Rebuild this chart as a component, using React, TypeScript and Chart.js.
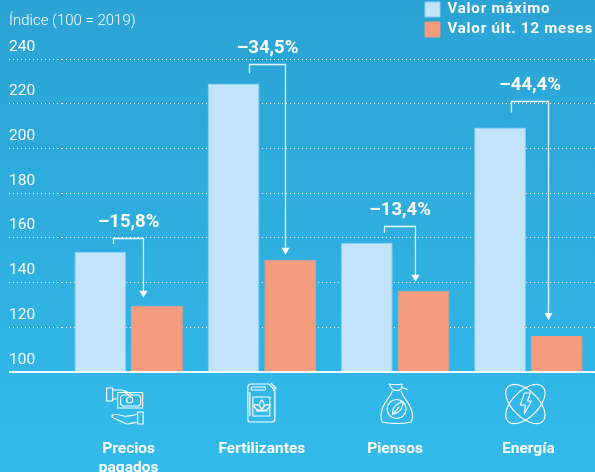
import React, { useEffect, useRef } from "react";
import { Chart, registerables } from "chart.js";

Chart.register(...registerables);

const categories = [["Precios", "pagados"], "Fertilizantes", "Piensos", "Energía"];
const seriesMaxLabel = "Valor máximo";
const seriesLastLabel = "Valor últ. 12 meses";
const valorMaximo = [153.8, 229, 157.8, 209.4];
const valorUltimo = [129.6, 150.2, 136.3, 116.1];
const changeLabels = ["–15,8%", "–34,5%", "–13,4%", "–44,4%"];
const bracketTop = [160.1, 237.9, 165.2, 221.3];
const bracketTickEnd = [157.2, 233.6, 162.3, 216.1];
const arrowTip = [133.2, 152.5, 140.4, 123.3];
const yTicks = [100, 120, 140, 160, 180, 200, 220, 240];

const FONT = "Roboto, 'Liberation Sans', sans-serif";
const WHITE = "#ffffff";

type Ctx = CanvasRenderingContext2D;

function stroke(ctx: Ctx, d: string) {
  ctx.stroke(new Path2D(d));
}

function iconMoney(ctx: Ctx) {
  ["M7 10H13V23H7Z",
   "M13 12H21C25 12 28 14 33 17",
   "M13 21H17",
   "M18 14.5H43V30H18Z",
   "M21 19L23 17H39L41 19V26L39 28H23L21 26Z",
   "M24 13L30 18 33 20",
   "M33 22a3 3 0 1 1-6 0a3 3 0 1 1 6 0",
   "M38 34H43.5V46H38Z",
   "M38 36C33 37 30 39 24 38C21 37 16 36 13 37C12 38 12 39 14 40L27 46C31 46.5 35 44 38 44"
  ].forEach((d) => stroke(ctx, d));
}

function iconCan(ctx: Ctx) {
  ["M10 9C10 7 11 6 13 6H31L37 12V41C37 43 36 44 34 44H12C10 44 10 42 10 41Z",
   "M14 9H27C28 10 28 12 27 12H14C13 12 13 10 14 9Z",
   "M33 5L38 10 35 13",
   "M15 19H32V38H15Z",
   "M24 22C27 25 27 28 24 32C21 28 21 25 24 22Z",
   "M24 32C20 33 17 31 16 27C19 26 22 27 24 32Z",
   "M24 32C28 33 31 31 32 27C29 26 26 27 24 32Z",
   "M18 33H30",
   "M12 14V38"
  ].forEach((d) => stroke(ctx, d));
}

function iconSack(ctx: Ctx) {
  ["M17 6C20 7 27 7 30 6L29 11C27 13 22 13 20 11Z",
   "M29 9L36 12",
   "M20 13C20 18 10 24 9 36C9 40 9 42 10 44C20 46 30 46 39 44C41 40 41 36 39 31C36 23 30 18 29 13",
   "M34 31a9.500 9.500 0 1 1-19 0a9.500 9.500 0 1 1 19 0",
   "M31 24C31 29 28 35 21 36C19 31 24 25 31 24Z",
   "M20 37L27 29"
  ].forEach((d) => stroke(ctx, d));
}

function iconAtom(ctx: Ctx) {
  ctx.save();
  ctx.translate(25, 26);
  for (const a of [Math.PI / 4, -Math.PI / 4]) {
    ctx.beginPath();
    ctx.ellipse(0, 0, 24.5, 13, a, 0, Math.PI * 2);
    ctx.stroke();
  }
  ctx.restore();
  stroke(ctx, "M24 15H30L27 23H31L24 36L25 27H20Z");
}

const icons = [iconMoney, iconCan, iconSack, iconAtom];
const iconOffsets: [number, number][] = [[-29, 378], [-24, 378], [-23, 378], [-28, 378]];
const bracketLeftOffsets = [13, 15.5, 17.5, 11];
const bracketRightOffsets = [-13.5, -5.5, -8, -9];

const annotationPlugin = {
  id: "annotations",
  afterDatasetsDraw(chart: any) {
    const { ctx, scales } = chart;
    const x = scales.x;
    const y = scales.y;
    const meta0 = chart.getDatasetMeta(0).data;
    const meta1 = chart.getDatasetMeta(1).data;

    ctx.save();
    ctx.strokeStyle = "rgba(255,255,255,0.9)";
    ctx.lineWidth = 2;
    ctx.beginPath();
    ctx.moveTo(9, y.getPixelForValue(100));
    ctx.lineTo(chart.width, y.getPixelForValue(100));
    ctx.stroke();

    categories.forEach((_, i) => {
      const x0 = Math.round(meta0[i].x + bracketLeftOffsets[i]) + 0.5;
      const x1 = Math.round(meta1[i].x + bracketRightOffsets[i]) + 0.5;
      const top = Math.round(y.getPixelForValue(bracketTop[i])) + 0.5;
      const tickEnd = y.getPixelForValue(bracketTickEnd[i]);
      const tip = y.getPixelForValue(arrowTip[i]);
      ctx.strokeStyle = "rgba(240,250,255,0.95)";
      ctx.lineWidth = 1.3;
      ctx.beginPath();
      ctx.moveTo(x0, tickEnd);
      ctx.lineTo(x0, top);
      ctx.lineTo(x1, top);
      ctx.lineTo(x1, tip - 6);
      ctx.stroke();
      ctx.fillStyle = WHITE;
      ctx.beginPath();
      ctx.moveTo(x1 - 4, tip - 7);
      ctx.lineTo(x1 + 4, tip - 7);
      ctx.lineTo(x1, tip);
      ctx.closePath();
      ctx.fill();
      ctx.font = `700 18.5px ${FONT}`;
      ctx.textAlign = "center";
      ctx.textBaseline = "middle";
      ctx.fillText(changeLabels[i], (x0 + x1) / 2, top - 16);

      ctx.save();
      ctx.translate(x.getPixelForValue(i) + iconOffsets[i][0], iconOffsets[i][1]);
      ctx.strokeStyle = WHITE;
      ctx.lineWidth = 1.15;
      ctx.lineJoin = "round";
      icons[i](ctx);
      ctx.restore();
    });
    ctx.restore();
  },
};

const legendPlacement = {
  id: "legendPlacement",
  afterLayout(chart: any) {
    const l = chart.legend;
    const w = l.right - l.left;
    const h = l.bottom - l.top;
    l.left = 420;
    l.top = -3;
    l.right = l.left + w;
    l.bottom = l.top + h;
    if (!l.__spaced) {
      l.__spaced = true;
      const draw = l.draw.bind(l);
      l.draw = (...args: any[]) => {
        chart.ctx.letterSpacing = "0.8px";
        draw(...args);
        chart.ctx.letterSpacing = "0px";
      };
    }
  },
};

export default function App() {
  const ref = useRef<HTMLCanvasElement>(null);
  useEffect(() => {
    document.body.style.margin = "0";
    const chart = new Chart(ref.current as HTMLCanvasElement, {
      type: "bar",
      data: {
        labels: categories as any,
        datasets: [
          {
            label: seriesMaxLabel,
            data: valorMaximo,
            backgroundColor: "#C2E5FB",
            borderColor: "#8CCFEF",
            borderWidth: 1,
          },
          {
            label: seriesLastLabel,
            data: valorUltimo,
            backgroundColor: "#F49C7D",
            borderColor: "#EE9C80",
            borderWidth: 1,
          },
        ],
      },
      plugins: [annotationPlugin, legendPlacement],
      options: {
        animation: false,
        responsive: false,
        layout: { padding: { left: 9, right: 0, top: 0, bottom: 0 } },
        datasets: { bar: { barPercentage: 0.915, categoryPercentage: 0.85 } },
        plugins: {
          tooltip: { enabled: false },
          title: {
            display: true,
            text: "Índice (100 = 2019)",
            align: "start",
            color: WHITE,
            font: { family: FONT, size: 15, weight: "300", lineHeight: 1.2 },
            padding: { top: 12, bottom: 29 },
          },
          legend: {
            position: "chartArea",
            align: "start",
            labels: {
              color: WHITE,
              font: { family: FONT, size: 15, weight: "700" },
              boxWidth: 15,
              boxHeight: 15,
              padding: 5,
            },
          },
        },
        scales: {
          x: {
            grid: { display: false },
            border: { display: false },
            ticks: {
              color: WHITE,
              padding: 60,
              maxRotation: 0,
              autoSkip: false,
              font: { family: FONT, size: 15.5, weight: "700", lineHeight: 1.2 },
            },
            afterFit(s: any) {
              s.height = 100;
              s.paddingLeft = 0;
              s.paddingRight = 0;
            },
          },
          y: {
            min: 100,
            max: 240,
            afterBuildTicks(s: any) {
              s.ticks = yTicks.map((value) => ({ value }));
            },
            grid: {
              color: "rgba(255,255,255,0.95)",
              lineWidth: 1,
              tickLength: 53,
              tickColor: "rgba(255,255,255,0.95)",
              borderDash: [1, 3],
              tickBorderDash: [1, 3],
            } as any,
            border: { display: false, dash: [1, 3] },
            ticks: {
              color: WHITE,
              crossAlign: "far",
              padding: 0,
              autoSkip: false,
              font: { family: FONT, size: 15.5, weight: "400", lineHeight: 1.58 },
              callback: (v: any) => [String(v), " "],
            } as any,
            afterFit(s: any) {
              s.width = 53;
              s.paddingTop = 0;
              s.paddingBottom = 0;
            },
          },
        },
      } as any,
    });
    return () => chart.destroy();
  }, []);

  return (
    <div
      style={{
        position: "absolute",
        left: 0,
        top: 0,
        width: 595,
        height: 472,
        overflow: "hidden",
        background: "linear-gradient(180deg, #2BA3D5 0%, #2EAEDF 50%, #33BBEC 100%)",
      }}
    >
      <canvas ref={ref} width={595} height={472} style={{ display: "block" }} />
    </div>
  );
}
